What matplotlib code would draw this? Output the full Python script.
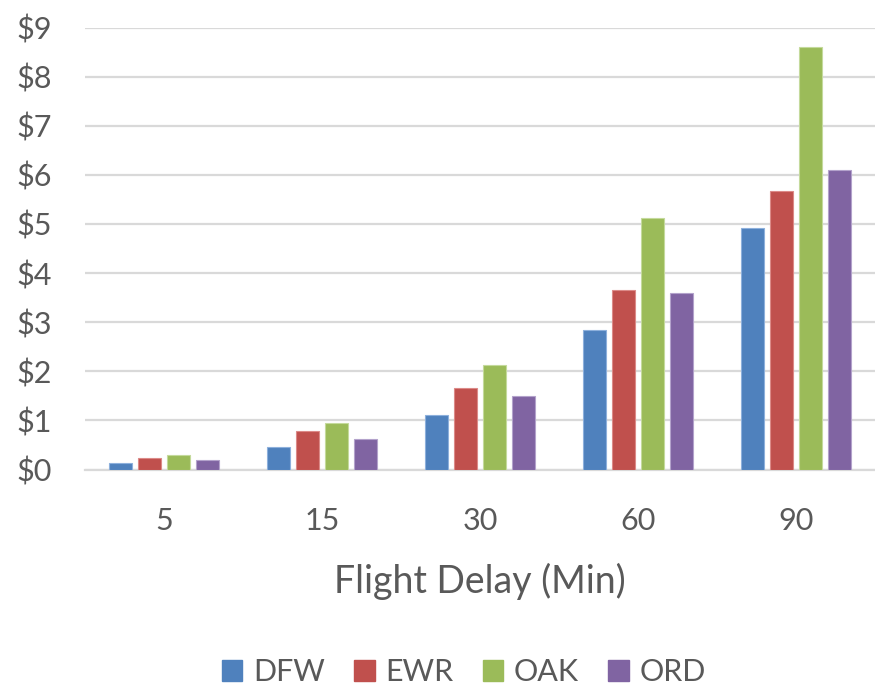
import matplotlib
matplotlib.use("Agg")
import matplotlib.pyplot as plt
import numpy as np
from matplotlib.patches import Patch

plt.rcParams['font.family'] = ['Lato', 'DejaVu Sans']

categories = ["5", "15", "30", "60", "90"]
series_names = ["DFW", "EWR", "OAK", "ORD"]
dfw = [0.13, 0.45, 1.11, 2.84, 4.91]
ewr = [0.23, 0.78, 1.65, 3.66, 5.67]
oak = [0.29, 0.94, 2.13, 5.12, 8.60]
ord_ = [0.19, 0.62, 1.49, 3.60, 6.10]
y_ticks = [0, 1, 2, 3, 4, 5, 6, 7, 8, 9]

colors = ["#4F81BD", "#C0504D", "#9BBB59", "#8064A2"]
edge_colors = ["#8DB0DC", "#DC8A88", "#C4DA9C", "#B3A2CB"]
text_color = "#595959"

fig = plt.figure(figsize=(8.75, 6.88), dpi=100)
ax = fig.add_axes([85/875, 1-469.5/688, 1-85/875, (469.5-27.5)/688])

x = np.arange(len(categories))
pitch = 0.184
width = 0.148
for i, (vals, c, ec) in enumerate(zip([dfw, ewr, oak, ord_], colors, edge_colors)):
    ax.bar(x + (i - 1.5) * pitch, vals, width=width, color=c, edgecolor=ec,
           linewidth=0.8, zorder=3)

ax.set_xlim(-0.5, len(categories) - 0.5)
ax.set_ylim(0, 9)
ax.set_yticks(y_ticks)
ax.set_yticklabels([f"${v}" for v in y_ticks])
ax.set_xticks(x)
ax.set_xticklabels(categories)
ax.yaxis.grid(True, color="#D9D9D9", linewidth=1.6, zorder=0)
ax.set_axisbelow(True)
for s in ["top", "right", "left"]:
    ax.spines[s].set_visible(False)
ax.spines["bottom"].set_color("#D9D9D9")
ax.spines["bottom"].set_linewidth(1.6)
ax.tick_params(axis="both", length=0, labelsize=22, colors=text_color)
ax.tick_params(axis="y", pad=24)
ax.tick_params(axis="x", pad=27)
ax.set_xlabel("Flight Delay (Min)", fontsize=27, color=text_color, labelpad=20)

handles = [Patch(facecolor=c, edgecolor=c) for c in colors]
fig.legend(handles, series_names, loc="center", bbox_to_anchor=(0.53, 1-672/688),
           ncol=4, frameon=False, fontsize=22, labelcolor=text_color,
           handlelength=0.68, handleheight=0.68, handletextpad=0.35, columnspacing=0.95)

fig.savefig("out.png", dpi=100)
